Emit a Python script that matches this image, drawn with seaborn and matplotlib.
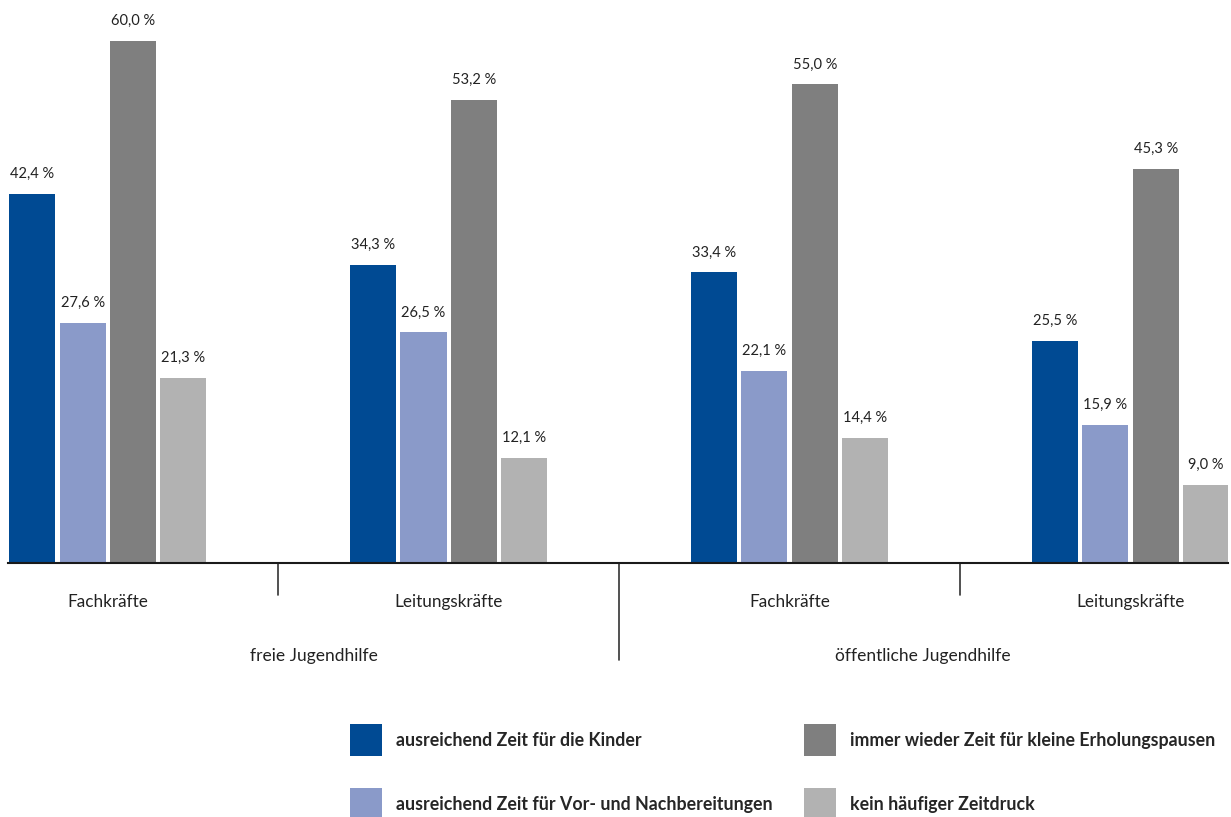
import matplotlib
matplotlib.use("Agg")
import matplotlib.pyplot as plt
import matplotlib.transforms as mtransforms
from matplotlib.patches import Patch
import pandas as pd
import seaborn as sns

# Gruppen (Träger x Personalgruppe)
gruppen = ["freie|Fachkräfte", "freie|Leitungskräfte",
           "öffentliche|Fachkräfte", "öffentliche|Leitungskräfte"]
gruppen_labels = ["Fachkräfte", "Leitungskräfte", "Fachkräfte", "Leitungskräfte"]
traeger = ["freie Jugendhilfe", "öffentliche Jugendhilfe"]

merkmale = [
    "ausreichend Zeit für die Kinder",
    "ausreichend Zeit für Vor- und Nachbereitungen",
    "immer wieder Zeit für kleine Erholungspausen",
    "kein häufiger Zeitdruck",
]

zeit_kinder = [42.4, 34.3, 33.4, 25.5]
zeit_vorbereitung = [27.6, 26.5, 22.1, 15.9]
erholungspausen = [60.0, 53.2, 55.0, 45.3]
kein_zeitdruck = [21.3, 12.1, 14.4, 9.0]

farben = ["#004A93", "#8A9AC9", "#7F7F7F", "#B2B2B2"]

rows = []
for merkmal, werte in zip(merkmale, [zeit_kinder, zeit_vorbereitung,
                                     erholungspausen, kein_zeitdruck]):
    for g, w in zip(gruppen, werte):
        rows.append({"Gruppe": g, "Merkmal": merkmal, "Wert": w})
df = pd.DataFrame(rows)

sns.set_theme(style="white")
plt.rcParams["font.family"] = ["Lato", "DejaVu Sans"]

W, H = 1231, 817
fig = plt.figure(figsize=(W / 100, H / 100), dpi=100)
ax = fig.add_axes([8 / W, (H - 563) / H, (1228 - 8) / W, 563 / H])

sns.barplot(data=df, x="Gruppe", y="Wert", hue="Merkmal", order=gruppen,
            hue_order=merkmale, palette=farben, width=0.59, gap=0.085,
            saturation=1, linewidth=0, legend=False, ax=ax)

ax.set_xlim(-0.2925, 3.286)
ax.set_ylim(0, 64.7)
ax.set_xlabel("")
ax.set_ylabel("")
ax.set_yticks([])
ax.set_xticks(range(len(gruppen)))
ax.set_xticklabels(gruppen_labels, fontsize=12.3, color="#222222")
ax.tick_params(axis="x", length=0, pad=22)
for side in ["top", "right", "left"]:
    ax.spines[side].set_visible(False)
ax.spines["bottom"].set_color("#1a1a1a")
ax.spines["bottom"].set_linewidth(1.5)

# Wertebeschriftungen
for cont in ax.containers:
    for bar in cont:
        h = bar.get_height()
        ax.annotate(f"{h:.1f} %".replace(".", ","),
                    (bar.get_x() + bar.get_width() / 2, h),
                    xytext=(0, 11.5), textcoords="offset points",
                    ha="center", va="baseline", fontsize=10.5, color="#222222")

# Trennlinien und Trägerbeschriftungen unter der Achse
trans = mtransforms.blended_transform_factory(ax.transData, ax.transAxes)
for x, unten in [(0.5, -0.057), (1.5, -0.172), (2.5, -0.057)]:
    ax.plot([x, x], [0, unten], color="#333333", lw=1.2,
            transform=trans, clip_on=False)
for x, txt in zip([0.606, 2.392], traeger):
    ax.text(x, -0.165, txt, transform=trans, ha="center", va="center",
            fontsize=12.5, color="#222222")

# Legende in zwei Spalten
handles = [Patch(facecolor=c, edgecolor="none") for c in farben]
for idx, x0 in [((0, 1), 350), ((2, 3), 804)]:
    fig.legend([handles[i] for i in idx], [merkmale[i] for i in idx],
               loc="upper left", bbox_to_anchor=(x0 / W, 1 - 724 / H),
               frameon=False, borderpad=0, borderaxespad=0,
               handlelength=1.8, handleheight=2.43, handletextpad=0.78,
               labelspacing=1.78,
               prop={"weight": "bold", "size": 12.8})

fig.savefig("out.png", dpi=100, facecolor="white")
